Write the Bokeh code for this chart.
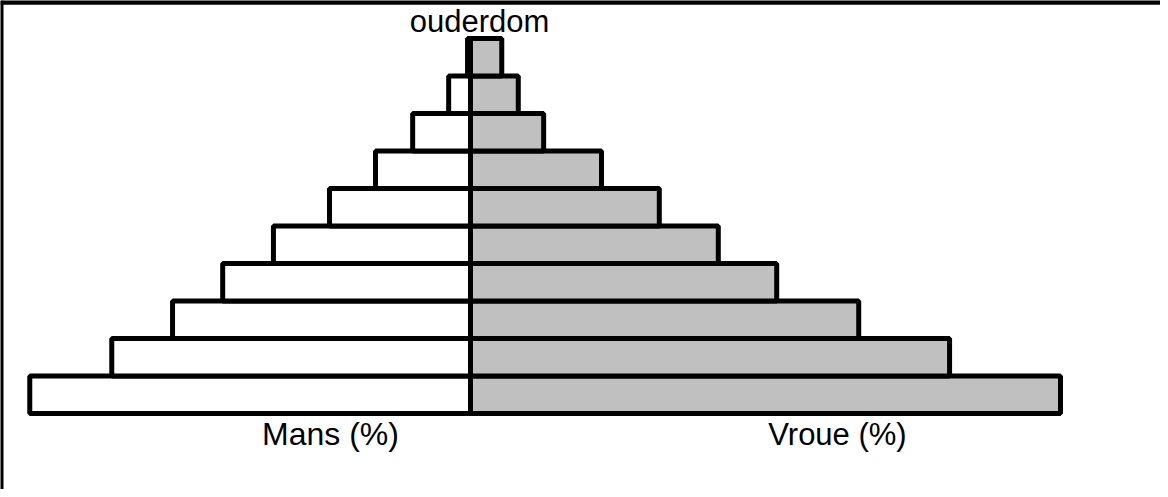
import numpy as np
from bokeh.plotting import figure
from bokeh.models import ColumnDataSource, Range1d, Span, Label
from bokeh.embed import file_html
from bokeh.resources import INLINE

# ---- data (bottom age group first) ----
age_groups = ["0-9", "10-19", "20-29", "30-39", "40-49",
              "50-59", "60-69", "70-79", "80-89", "90+"]
mans = [7.47, 6.08, 5.05, 4.20, 3.34, 2.39, 1.61, 0.98, 0.37, 0.05]
vroue = [10.0, 8.12, 6.58, 5.19, 4.20, 3.20, 2.22, 1.24, 0.81, 0.53]
title_text = "ouderdom"
label_left = "Mans (%)"
label_right = "Vroue (%)"

ypos = np.arange(len(age_groups)) + 0.5
src = ColumnDataSource(dict(
    age=age_groups,
    y=ypos,
    m_left=-np.array(mans),
    m_right=np.zeros(len(mans)),
    f_left=np.zeros(len(vroue)),
    f_right=np.array(vroue),
))

W, H = 1160, 489
p = figure(width=W, height=H, output_backend="svg", toolbar_location=None,
           x_range=Range1d(-7.966, 11.695), y_range=Range1d(-2.027, 11.013),
           min_border=0, x_axis_location=None, y_axis_location=None,
           background_fill_color="white", border_fill_color="white")
p.outline_line_color = None
p.grid.visible = False

FONT = "Liberation Sans"

p.hbar(y="y", left="m_left", right="m_right", height=1.0, source=src,
       fill_color="white", line_color="black", line_width=5)
p.hbar(y="y", left="f_left", right="f_right", height=1.0, source=src,
       fill_color="#c0c0c0", line_color="black", line_width=5)

# frame border (top and left visible)
p.add_layout(Span(location=10.967, dimension="width", line_color="black", line_width=5))
p.add_layout(Span(location=-7.949, dimension="height", line_color="black", line_width=4))

p.add_layout(Label(x=0.153, y=10.466, text=title_text, text_font=FONT,
                   text_font_size="31px", text_align="center",
                   text_baseline="alphabetic", text_color="black"))
p.add_layout(Label(x=-2.373, y=-0.547, text=label_left, text_font=FONT,
                   text_font_size="32px", text_align="center",
                   text_baseline="alphabetic", text_color="black"))
p.add_layout(Label(x=6.22, y=-0.547, text=label_right, text_font=FONT,
                   text_font_size="31px", text_align="center",
                   text_baseline="alphabetic", text_color="black"))

open("out.html", "w").write(file_html(p, INLINE))
